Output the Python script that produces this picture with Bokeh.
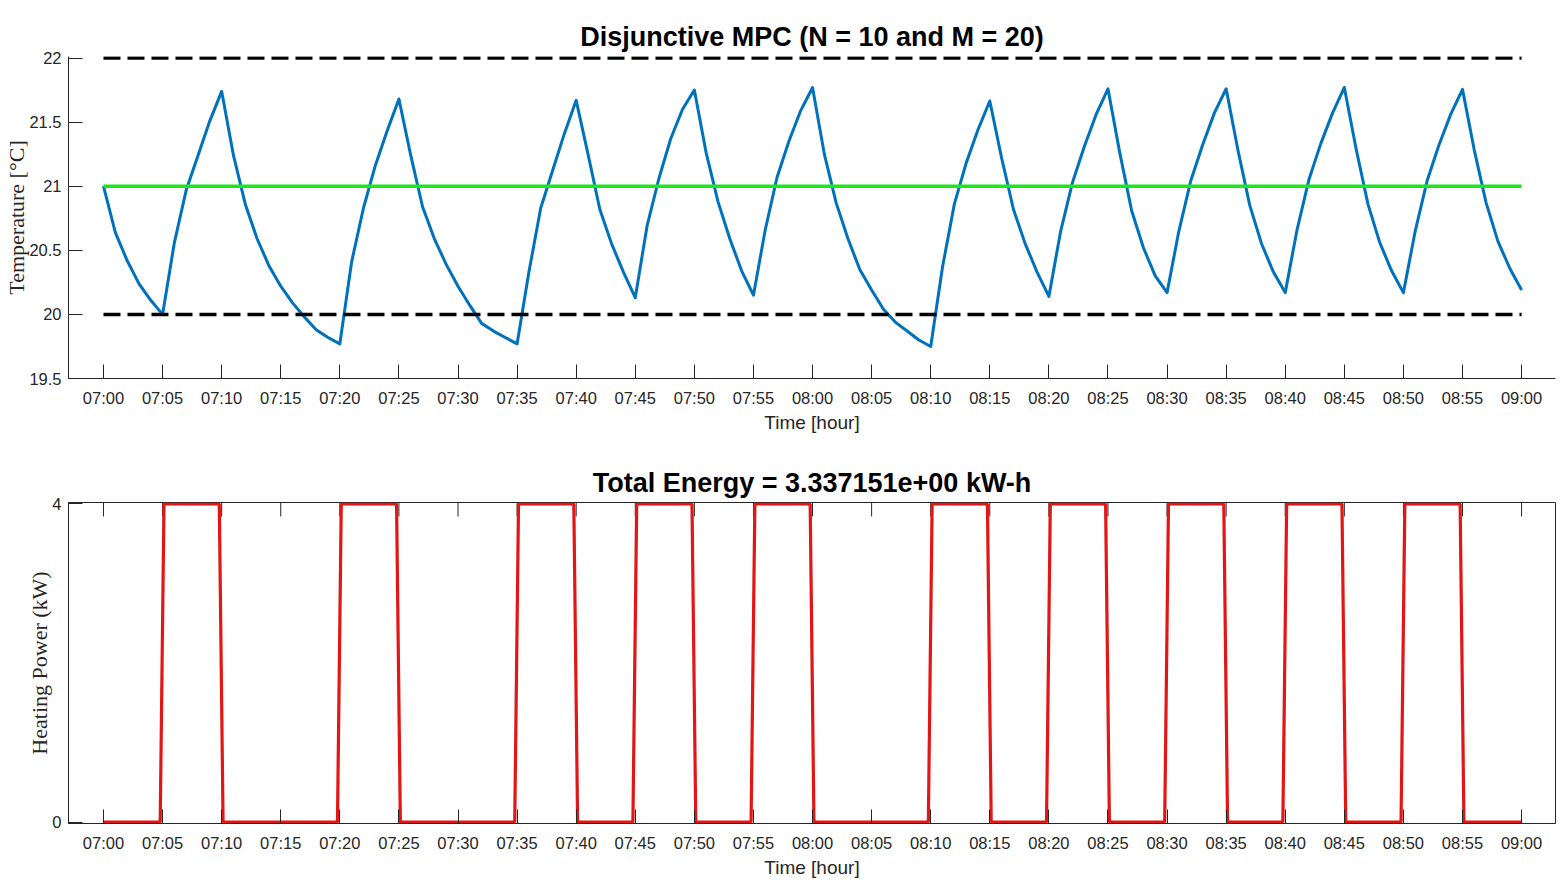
from bokeh.plotting import figure
from bokeh.models import Range1d, FixedTicker
from bokeh.layouts import column
from bokeh.embed import file_html
from bokeh.resources import INLINE

# ---------------- data ----------------
minutes = list(range(121))  # minutes after 07:00, 1-min samples
temperature = [
    21.00, 20.64, 20.42, 20.24, 20.11, 20.00, 20.56, 20.97, 21.24, 21.51,
    21.74, 21.24, 20.86, 20.59, 20.38, 20.22, 20.09, 19.98, 19.88, 19.82,
    19.77, 20.41, 20.83, 21.16, 21.43, 21.68, 21.24, 20.84, 20.59, 20.39,
    20.22, 20.07, 19.93, 19.87, 19.82, 19.77, 20.33, 20.83, 21.12, 21.41,
    21.67, 21.25, 20.82, 20.55, 20.33, 20.13, 20.69, 21.06, 21.37, 21.60,
    21.75, 21.26, 20.88, 20.59, 20.34, 20.15, 20.66, 21.07, 21.35, 21.59,
    21.77, 21.25, 20.87, 20.59, 20.35, 20.19, 20.04, 19.94, 19.87, 19.80,
    19.75, 20.37, 20.86, 21.18, 21.44, 21.665, 21.22, 20.82, 20.55, 20.33,
    20.14, 20.65, 21.03, 21.31, 21.56, 21.76, 21.26, 20.81, 20.52, 20.30,
    20.17, 20.65, 21.04, 21.32, 21.57, 21.76, 21.28, 20.85, 20.55, 20.33,
    20.17, 20.66, 21.05, 21.33, 21.57, 21.77, 21.29, 20.86, 20.56, 20.34,
    20.17, 20.65, 21.04, 21.32, 21.56, 21.755, 21.28, 20.87, 20.57, 20.36,
    20.19,
]
setpoint = 21.0
lower_bound = 20.0
upper_bound = 22.0

heat_on = [5, 20, 35, 45, 55, 70, 80, 90, 100, 110]
heat_off = [10, 25, 40, 50, 60, 75, 85, 95, 105, 115]
power_max = 4.0
switch_lead = 0.2   # minutes the switch starts before the nominal time
switch_lag = 0.12   # minutes the switch ends after it

tick_minutes = list(range(0, 121, 5))
tick_labels = ["07:00", "07:05", "07:10", "07:15", "07:20", "07:25", "07:30",
               "07:35", "07:40", "07:45", "07:50", "07:55", "08:00", "08:05",
               "08:10", "08:15", "08:20", "08:25", "08:30", "08:35", "08:40",
               "08:45", "08:50", "08:55", "09:00"]
temp_ticks = [19.5, 20.0, 20.5, 21.0, 21.5, 22.0]
temp_tick_labels = ["19.5", "20", "20.5", "21", "21.5", "22"]
power_ticks = [0, 4]
power_tick_labels = ["0", "4"]

title_top = "Disjunctive MPC (N = 10 and M = 20)"
title_bottom = "Total Energy = 3.337151e+00 kW-h"

# power trace (0/4 kW with short switching ramps)
px = [minutes[0]]
py = [0.0]
for on, off in zip(heat_on, heat_off):
    px += [on - switch_lead, on + switch_lag, off - switch_lead, off + switch_lag]
    py += [0.0, power_max, power_max, 0.0]
px.append(minutes[-1])
py.append(0.0)

# ---------------- styling ----------------
AX = "#262626"
SANS = "Liberation Sans"
SERIF = "Liberation Serif"
X_RANGE = (-2.96, 122.87)
PAD_PX = 1.5          # keeps thick lines at the axis limits fully visible
TICK_PX = 14

TOP_FRAME_H = 322
BOT_FRAME_H = 322
t_span = (upper_bound - 19.5) * TOP_FRAME_H / (TOP_FRAME_H - PAD_PX)
p_unit = power_max / (BOT_FRAME_H - 2 * PAD_PX)
p_pad = PAD_PX * p_unit


def style_x(ax):
    ax.ticker = FixedTicker(ticks=tick_minutes)
    ax.major_label_overrides = {m: l for m, l in zip(tick_minutes, tick_labels)}
    ax.major_tick_in = TICK_PX
    ax.major_tick_out = 0
    ax.minor_tick_line_color = None
    ax.axis_line_color = AX
    ax.major_tick_line_color = AX
    ax.major_label_text_color = AX
    ax.major_label_text_font = SANS
    ax.major_label_text_font_size = "16.5px"
    ax.major_label_standoff = 10
    ax.axis_label = "Time [hour]"
    ax.axis_label_text_font = SANS
    ax.axis_label_text_font_size = "19px"
    ax.axis_label_text_font_style = "normal"
    ax.axis_label_text_color = AX
    ax.axis_label_standoff = 2


def style_y(ax, ticks, labels, label):
    ax.ticker = FixedTicker(ticks=ticks)
    ax.major_label_overrides = {t: l for t, l in zip(ticks, labels)}
    ax.major_tick_in = TICK_PX
    ax.major_tick_out = 0
    ax.minor_tick_line_color = None
    ax.axis_line_color = AX
    ax.major_tick_line_color = AX
    ax.major_label_text_color = AX
    ax.major_label_text_font = SANS
    ax.major_label_text_font_size = "16.5px"
    ax.major_label_standoff = 7
    ax.axis_label = label
    ax.axis_label_text_font = SERIF
    ax.axis_label_text_font_size = "22px"
    ax.axis_label_text_font_style = "normal"
    ax.axis_label_text_color = AX
    ax.axis_label_standoff = -3


def style_common(p):
    p.xgrid.grid_line_color = None
    p.ygrid.grid_line_color = None
    p.background_fill_color = "white"
    p.border_fill_color = "white"
    p.title.align = "center"
    p.title.text_font = SANS
    p.title.text_font_size = "27px"
    p.title.text_font_style = "bold"
    p.title.text_color = "black"
    style_x(p.xaxis[0])


# ---------------- top figure ----------------
p1 = figure(width=1558, height=440, output_backend="svg", toolbar_location=None,
            x_range=Range1d(*X_RANGE),
            y_range=Range1d(upper_bound - t_span, upper_bound + (t_span - 2.5)),
            title=title_top, min_border_left=68, min_border_right=3,
            min_border_top=56, min_border_bottom=62)
p1.y_range.start = 19.5
p1.outline_line_color = None
style_common(p1)
style_y(p1.yaxis[0], temp_ticks, temp_tick_labels, "Temperature [°C]")

p1.line(minutes, temperature, line_color="#0072BD", line_width=3,
        line_join="round")
p1.line([minutes[0], minutes[-1]], [setpoint, setpoint],
        line_color="#1ee61e", line_width=3.5)
p1.line([minutes[0], minutes[-1]], [upper_bound, upper_bound],
        line_color="black", line_width=3.5, line_dash="17 7")
p1.line([minutes[0], minutes[-1]], [lower_bound, lower_bound],
        line_color="black", line_width=3.5, line_dash="17 7")

# ---------------- bottom figure ----------------
p2 = figure(width=1558, height=440, output_backend="svg", toolbar_location=None,
            x_range=Range1d(*X_RANGE),
            y_range=Range1d(0 - p_pad, power_max + p_pad),
            title=title_bottom, min_border_left=68, min_border_right=3,
            min_border_top=62, min_border_bottom=56)
p2.outline_line_color = AX
p2.outline_line_width = 1
style_common(p2)
style_y(p2.yaxis[0], power_ticks, power_tick_labels, "Heating Power (kW)")

# mirrored x ticks along the top edge of the box
n_t = len(tick_minutes)
p2.segment(x0=tick_minutes, x1=tick_minutes,
           y0=[power_max + p_pad] * n_t,
           y1=[power_max + p_pad - TICK_PX * p_unit] * n_t,
           line_color=AX, line_width=1)

p2.line(px, py, line_color="#e31515", line_width=3.2)

layout = column(p1, p2)
open("out.html", "w").write(file_html(layout, INLINE))
